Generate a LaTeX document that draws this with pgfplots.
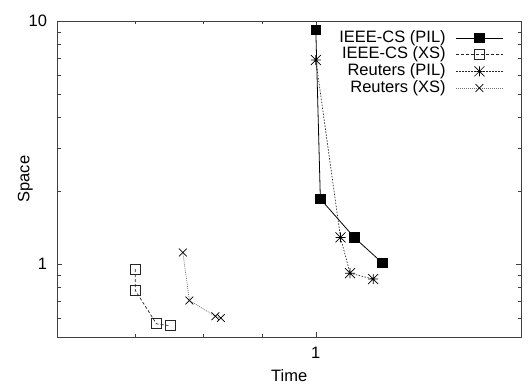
\documentclass[border=0pt]{standalone}
\usepackage{pgfplots}
\pgfplotsset{compat=1.18}
\usepackage{fontspec}
\setmainfont{Liberation Sans}
\pgfdeclareplotmark{gpstar}{%
  \pgfpathmoveto{\pgfqpoint{-\pgfplotmarksize}{0pt}}\pgfpathlineto{\pgfqpoint{\pgfplotmarksize}{0pt}}%
  \pgfpathmoveto{\pgfqpoint{0pt}{-\pgfplotmarksize}}\pgfpathlineto{\pgfqpoint{0pt}{\pgfplotmarksize}}%
  \pgfpathmoveto{\pgfqpoint{-\pgfplotmarksize}{-\pgfplotmarksize}}\pgfpathlineto{\pgfqpoint{\pgfplotmarksize}{\pgfplotmarksize}}%
  \pgfpathmoveto{\pgfqpoint{-\pgfplotmarksize}{\pgfplotmarksize}}\pgfpathlineto{\pgfqpoint{\pgfplotmarksize}{-\pgfplotmarksize}}%
  \pgfusepathqstroke}
\begin{document}
\begin{tikzpicture}
\begin{axis}[
  name=main,
  xmode=log, ymode=log,
  scale only axis, width=463.7pt, height=316.3pt,
  xmin=0.6, xmax=1.5, ymin=0.5, ymax=10,
  xtick={1}, xticklabels={1},
  ytick={1,10}, yticklabels={1,10},
  minor xtick={0.7,0.8,0.9},
  minor ytick={0.6,0.7,0.8,0.9,2,3,4,5,6,7,8,9},
  major tick length=5pt, minor tick length=3.5pt,
  axis line style={black!75, line width=0.8pt},
  every tick/.style={black!75, line width=0.6pt},
  font=\fontsize{16.5}{19}\selectfont,
  xticklabel style={yshift=-6.3pt},
  yticklabel style={xshift=-6.8pt},
  xlabel={Time}, ylabel={Space},
  every axis x label/.style={at={(axis description cs:0.5,-0.12)}, anchor=center, inner sep=0pt},
  every axis y label/.style={at={(axis description cs:-0.069,0.5)}, anchor=center, rotate=90},
  legend plot pos=right,
  legend cell align=right,
  legend style={at={(axis description cs:1,1)}, anchor=north east, xshift=-17.7pt, yshift=-9pt,
    draw=none, fill=none, inner sep=0pt, column sep=10pt, row sep=1.2pt,
    font=\fontsize{16.5}{19}\selectfont,
    nodes={inner sep=0pt, text height=12pt, text depth=3.5pt}},
  legend image code/.code={\draw[mark repeat=2,mark phase=2,#1] plot coordinates {(0pt,0pt) (23.3pt,0pt) (46.6pt,0pt)};},
]
\addplot[black, line width=0.8pt, mark=square*, mark size=4.8pt, mark options={solid}]
  coordinates {(1.000,9.18) (1.009,1.856) (1.079,1.287) (1.140,1.013)};
\addlegendentry{IEEE-CS (PIL)}
\addplot[black!85, line width=0.7pt, dash pattern=on 3pt off 2pt, mark=square, mark size=5pt, mark options={solid, line width=0.7pt}]
  coordinates {(0.700,0.954) (0.700,0.780) (0.730,0.568) (0.750,0.558)};
\addlegendentry{IEEE-CS (XS)}
\addplot[black!85, line width=0.7pt, dash pattern=on 1.5pt off 1.5pt, mark=gpstar, mark size=5pt, mark options={solid, line width=0.7pt, black}]
  coordinates {(1.000,6.91) (1.050,1.287) (1.070,0.918) (1.120,0.868)};
\addlegendentry{Reuters (PIL)}
\addplot[black!55, line width=0.7pt, dash pattern=on 1pt off 1pt, mark=x, mark size=5.5pt, mark options={solid, line width=0.7pt, black}]
  coordinates {(0.769,1.117) (0.779,0.709) (0.820,0.610) (0.829,0.600)};
\addlegendentry{Reuters (XS)}
\end{axis}
\pgfresetboundingbox
\path ([xshift=-57.3pt,yshift=-49pt]main.south west) rectangle ([xshift=8pt,yshift=21pt]main.north east);
\end{tikzpicture}
\end{document}
